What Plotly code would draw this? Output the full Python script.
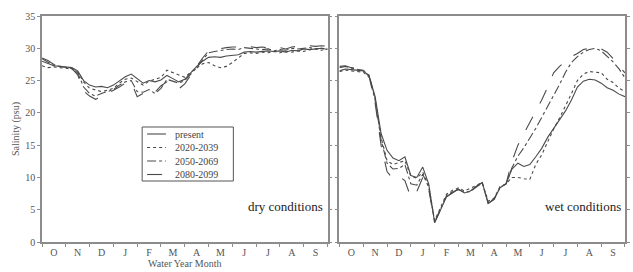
import plotly.graph_objects as go

months = ["O", "N", "D", "J", "F", "M", "A", "M", "J", "J", "A", "S"]
t = [i * 0.25 for i in range(49)]

dry_present = [28.0, 27.6, 27.3, 27.2, 27.1, 27.0, 26.5, 25.0, 24.3, 24.0, 24.1, 23.9, 24.3, 25.0, 25.6, 26.0,
               25.3, 24.6, 25.0, 24.8, 25.1, 25.8, 25.3, 24.8, 25.2, 26.2, 27.2, 28.0, 28.6, 28.7, 28.6, 28.8,
               28.9, 29.0, 29.4, 29.5, 29.4, 29.5, 29.6, 29.5, 29.6, 29.4, 29.7, 29.6, 29.9, 29.8, 29.9, 30.0, 29.8]
dry_2020 = [27.3, 27.0, 27.1, 27.0, 27.0, 26.8, 26.3, 24.8, 23.8, 23.6, 23.3, 23.5, 23.8, 24.6, 25.2, 25.4,
            24.8, 24.3, 24.9, 25.2, 25.5, 26.6, 26.2, 25.9, 25.5, 26.3, 27.0, 27.6, 27.8, 27.3, 27.0, 27.2,
            27.8, 28.5, 29.2, 29.3, 29.2, 29.4, 29.3, 29.5, 29.3, 29.5, 29.4, 29.6, 29.5, 29.8, 29.9, 29.7, 29.9]
dry_2050 = [28.4, 27.8, 27.3, 27.2, 27.0, 26.9, 26.2, 24.0, 23.0, 22.6, 23.0, 23.3, 23.6, 24.3, 24.8, 25.0,
            23.3, 23.2, 23.6, 23.0, 23.8, 25.2, 24.9, 24.6, 25.0, 26.0, 27.0, 28.2, 29.3, 29.5, 29.7, 29.8,
            29.9, 29.8, 30.1, 30.0, 29.9, 29.8, 29.9, 29.6, 29.8, 29.7, 30.0, 29.9, 30.0, 30.1, 29.9, 30.0, 29.9]
dry_2080 = [28.5, 28.1, 27.5, 27.3, 27.2, 26.9, 25.9, 23.4, 22.6, 22.1, 22.5, 23.0, 23.4, 24.0, 24.6, 24.8,
            22.5, 23.0, 22.6, 23.2, 24.2, 24.8, 24.2, 23.7, 24.5, 25.8, 27.2, 28.5, 29.6, 29.8, 29.9, 30.1,
            30.2, 30.2, 30.4, 30.3, 30.1, 30.2, 30.0, 29.9, 30.1, 29.9, 30.2, 30.3, 30.2, 30.4, 30.3, 30.4, 30.3]

wet_present = [26.5, 26.8, 26.7, 26.6, 26.5, 25.7, 22.5, 16.8, 14.2, 13.0, 12.6, 13.2, 10.3, 10.0, 11.6, 9.0,
               3.0, 5.0, 7.0, 7.6, 8.2, 7.6, 7.9, 8.6, 9.2, 6.0, 6.6, 8.4, 9.0, 11.3, 12.2, 11.7,
               12.0, 13.2, 14.5, 16.2, 17.6, 18.9, 20.3, 22.0, 24.0, 24.9, 25.2, 25.1, 24.6, 23.9, 23.5, 22.9, 22.5]
wet_2020 = [26.4, 26.6, 26.5, 26.4, 26.3, 25.5, 22.0, 16.2, 12.6, 12.0, 12.3, 12.6, 10.2, 9.9, 10.8, 8.8,
            3.3, 5.4, 7.4, 8.0, 8.4, 7.9, 8.3, 8.8, 9.2, 6.3, 6.8, 8.6, 9.0, 10.0, 10.0, 9.8,
            9.7, 12.0, 13.5, 15.5, 17.5, 19.2, 21.0, 23.0, 25.0, 26.0, 26.4, 26.3, 26.2, 25.2, 24.7, 23.8, 23.3]
wet_2050 = [27.0, 27.2, 26.9, 26.8, 26.6, 25.8, 22.2, 15.8, 12.2, 11.3, 11.4, 12.0, 9.0, 8.8, 10.5, 8.5,
            3.2, 5.1, 7.2, 7.8, 8.1, 7.7, 7.8, 8.5, 9.1, 6.1, 6.7, 8.5, 9.0, 11.5, 13.3, 14.6,
            16.0, 17.6, 19.3, 21.0, 22.5, 24.4, 26.3, 27.8, 28.7, 29.4, 29.8, 30.0, 29.6, 28.8, 27.9, 26.8, 25.4]
wet_2080 = [27.2, 27.3, 27.0, 26.8, 26.7, 25.6, 21.5, 15.0, 10.9, 9.8, 10.2, 9.5, 6.9, 7.8, 10.0, 8.2,
            3.0, 5.0, 7.0, 7.7, 8.2, 7.5, 7.8, 8.6, 9.2, 6.0, 6.6, 8.4, 9.0, 12.5, 15.0, 16.8,
            18.5, 20.2, 22.0, 24.0, 26.2, 27.2, 28.0, 28.7, 29.2, 29.8, 30.0, 30.1, 29.9, 29.4, 28.4, 27.2, 26.2]

series_names = ["present", "2020-2039", "2050-2069", "2080-2099"]
dashes = ["solid", "dot", "dashdot", "longdash"]
dry = [dry_present, dry_2020, dry_2050, dry_2080]
wet = [wet_present, wet_2020, wet_2050, wet_2080]

SERIF = "Liberation Serif, Times New Roman, serif"
LINE = "#4a4a4a"
AX = "#8c8c8c"

fig = go.Figure()
for name, dash, ys in zip(series_names, dashes, dry):
    fig.add_trace(go.Scatter(x=t, y=ys, mode="lines", name=name, xaxis="x", yaxis="y", showlegend=False,
                             line=dict(color=LINE, width=1.1, dash=dash)))
for name, dash, ys in zip(series_names, dashes, wet):
    fig.add_trace(go.Scatter(x=t, y=ys, mode="lines", name=name, xaxis="x2", yaxis="y2",
                             showlegend=False, line=dict(color=LINE, width=1.1, dash=dash)))

W = 633
H = 272
ml, mr, mt, mb = 42, 3, 16, 30
pw = W - ml - mr
ph = H - mt - mb
gap = 12
half = (pw - gap) / 2 / pw


def px(x):
    return (x - ml) / pw


def py(y):
    return (H - mb - y) / ph


xcommon = dict(range=[0, 12], tickvals=[i + 0.5 for i in range(12)], ticktext=months,
               ticks="", showgrid=False, zeroline=False, showline=True, linecolor=AX, linewidth=1.5,
               mirror=True, tickfont=dict(family=SERIF, size=10, color="#555"),
               minor=dict(tickvals=list(range(13)), ticks="outside", ticklen=3, tickcolor=AX, tickwidth=1))
ycommon = dict(range=[0, 35], dtick=5, ticks="outside", ticklen=3, tickcolor=AX, showgrid=False,
               zeroline=False, showline=True, linecolor=AX, linewidth=1.5, mirror="ticks",
               tickfont=dict(family=SERIF, size=10, color="#555"))

# custom legend (box, samples, labels)
shapes = [dict(type="rect", xref="paper", yref="paper", x0=px(143), x1=px(235), y0=py(181), y1=py(127),
               line=dict(color="#555", width=1), fillcolor="white", layer="above")]
annotations = []
for i, (name, dash) in enumerate(zip(series_names, dashes)):
    yc = 134 + 13.5 * i
    shapes.append(dict(type="line", xref="paper", yref="paper", x0=px(148), x1=px(167), y0=py(yc), y1=py(yc),
                       line=dict(color=LINE, width=1.1, dash=dash), layer="above"))
    annotations.append(dict(text=name, xref="paper", yref="paper", x=px(174), y=py(yc), xanchor="left",
                            yanchor="middle", showarrow=False, font=dict(family=SERIF, size=10, color="#444")))

annotations += [
    dict(text="dry conditions", xref="x", yref="y", x=11.9, y=5.5, xanchor="right", yanchor="middle",
         showarrow=False, font=dict(family=SERIF, size=13, color="#222")),
    dict(text="wet conditions", xref="x2", yref="y2", x=11.9, y=5.5, xanchor="right", yanchor="middle",
         showarrow=False, font=dict(family=SERIF, size=13, color="#222")),
]

fig.update_layout(
    width=W, height=H,
    margin=dict(l=ml, r=mr, t=mt, b=mb),
    paper_bgcolor="white", plot_bgcolor="white",
    showlegend=False,
    xaxis=dict(domain=[0, half], anchor="y",
               title=dict(text="Water Year Month", font=dict(family=SERIF, size=10, color="#555"), standoff=1),
               **xcommon),
    xaxis2=dict(domain=[1 - half, 1], anchor="y2", **xcommon),
    yaxis=dict(domain=[0, 1], anchor="x",
               title=dict(text="Salinity (psu)", font=dict(family=SERIF, size=10, color="#555"), standoff=4),
               **ycommon),
    yaxis2=dict(domain=[0, 1], anchor="x2", showticklabels=False, **ycommon),
    shapes=shapes,
    annotations=annotations,
)

fig.write_html("out.html", config={"displayModeBar": False},
               post_script="document.body.style.margin='0px';")
